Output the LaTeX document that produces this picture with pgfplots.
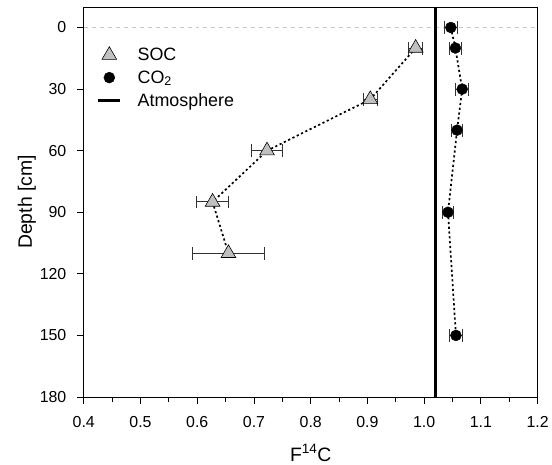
\documentclass[border=0pt]{standalone}
\usepackage{pgfplots}
\pgfplotsset{compat=1.18}
\usepackage{fontspec}
\setmainfont{Liberation Sans}
\definecolor{socgray}{RGB}{192,192,192}
\pgfplotsset{
  legmark/.style={legend image code/.code={\draw[##1] plot coordinates {(11bp,0bp)};}},
  legline/.style={legend image code/.code={\draw[##1] (0bp,0bp) -- (22bp,0bp);}},
}
\begin{document}
\begin{tikzpicture}
\begin{axis}[
  width=455bp, height=391bp, scale only axis,
  xmin=0.4, xmax=1.2, ymin=-10, ymax=180, y dir=reverse,
  xtick={0.4,0.5,...,1.21}, minor xtick={0.45,0.55,...,1.16},
  ytick={0,30,...,180},
  xtick pos=left, ytick pos=left, tick align=outside,
  major tick length=7bp, minor tick length=5bp,
  every tick/.style={black, line width=0.9pt},
  axis line style={line width=0.8pt},
  /pgf/number format/assume math mode=true,
  tick label style={font=\fontsize{16}{19}\selectfont},
  xticklabel style={yshift=-9bp, /pgf/number format/.cd, fixed, fixed zerofill, precision=1},
  yticklabel style={xshift=-7bp},
  xlabel={F\textsuperscript{14}C},
  ylabel={Depth [cm]},
  every axis x label/.style={at={(axis description cs:0.5,0)}, yshift=-56bp, anchor=center,
    font=\fontsize{19.5}{23}\selectfont},
  every axis y label/.style={at={(axis description cs:0,0.5)}, xshift=-57bp, rotate=90, anchor=center,
    font=\fontsize{19.5}{23}\selectfont},
  clip=false,
  legend style={draw=none, fill=none, inner sep=0pt, at={(0.0286,0.90)}, anchor=north west,
    font=\fontsize{18}{21.6}\selectfont, row sep=4.5bp,
    /tikz/every odd column/.append style={column sep=14bp}},
  legend cell align=left,
]
% reference line at surface
\addplot[gray!45, line width=1pt, dash pattern=on 4bp off 4bp, forget plot] coordinates {(0.4,0) (1.2,0)};
% SOC dotted line
\addplot[black, line width=1.7pt, dash pattern=on 2.2bp off 2.6bp, forget plot] coordinates {
(0.985,10) (0.905,35) (0.723,60) (0.627,85) (0.655,110)};
% CO2 dotted line
\addplot[black, line width=1.7pt, dash pattern=on 2.2bp off 2.6bp, forget plot] coordinates {
(1.047,0) (1.055,10) (1.067,30) (1.058,50) (1.042,90) (1.056,150)};
% SOC
\addplot[only marks, mark=triangle*, mark size=8.5bp,
  mark options={fill=socgray, draw=black, line width=0.6pt},
  legmark,
  error bars/.cd, x dir=both, x explicit,
  error bar style={line width=1pt, black!80},
  error mark options={rotate=90, mark size=6.5bp, line width=1pt, black!80}]
  coordinates {
  (0.985,10) +- (0.012,0)
  (0.905,35) +- (0.012,0)
  (0.723,60) +- (0.027,0)
  (0.627,85) +- (0.028,0)
  (0.655,110) +- (0.063,0)
};
\addlegendentry{SOC}
% CO2
\addplot[only marks, mark=*, mark size=5.5bp,
  mark options={fill=black, draw=black},
  legmark,
  error bars/.cd, x dir=both, x explicit,
  error bar style={line width=1pt, black!80},
  error mark options={rotate=90, mark size=6.5bp, line width=1pt, black!80}]
  coordinates {
  (1.047,0) +- (0.012,0)
  (1.055,10) +- (0.010,0)
  (1.067,30) +- (0.012,0)
  (1.058,50) +- (0.010,0)
  (1.042,90) +- (0.010,0)
  (1.056,150) +- (0.011,0)
};
\addlegendentry{CO\textsubscript{2}}
% Atmosphere
\addplot[black, line width=2.8pt, legline]
  coordinates {(1.02,-10) (1.02,180)};
\addlegendentry{Atmosphere}
\end{axis}
\path ([xshift=-84bp,yshift=-64bp]current axis.south west) rectangle ([xshift=13bp,yshift=7bp]current axis.north east);
\end{tikzpicture}
\end{document}
